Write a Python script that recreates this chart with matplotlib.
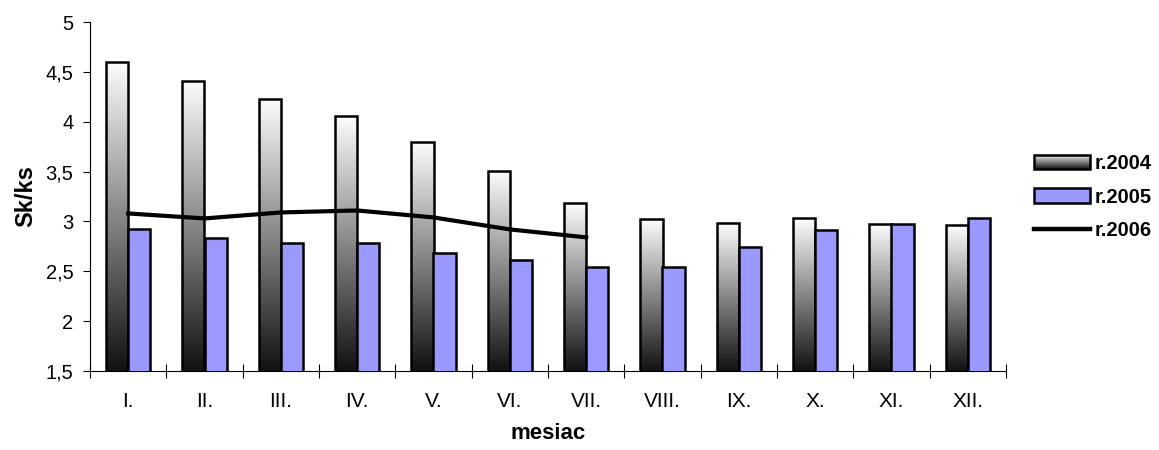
import numpy as np
import matplotlib
matplotlib.use('Agg')
import matplotlib.pyplot as plt
from matplotlib.patches import Rectangle
from matplotlib.lines import Line2D
from matplotlib.legend_handler import HandlerBase
from matplotlib.image import BboxImage
from matplotlib.transforms import Bbox, TransformedBbox
from matplotlib.ticker import FuncFormatter

plt.rcParams['font.family'] = ['Liberation Sans', 'DejaVu Sans']

months = ['I.', 'II.', 'III.', 'IV.', 'V.', 'VI.', 'VII.', 'VIII.', 'IX.', 'X.', 'XI.', 'XII.']
r2004 = [4.60, 4.41, 4.23, 4.06, 3.80, 3.51, 3.18, 3.02, 2.98, 3.03, 2.97, 2.96]
r2005 = [2.92, 2.83, 2.78, 2.78, 2.68, 2.61, 2.54, 2.54, 2.74, 2.91, 2.97, 3.03]
r2006 = [3.08, 3.03, 3.09, 3.11, 3.04, 2.92, 2.84]
labels = ['r.2004', 'r.2005', 'r.2006']
y_ticks = [1.5, 2, 2.5, 3, 3.5, 4, 4.5, 5]

blue = '#9999ff'
grad = np.linspace(1, 0, 256).reshape(-1, 1)
gray_cmap = matplotlib.colors.LinearSegmentedColormap.from_list('g', ['#111111', '#fdfdfd'])


class GradientHandler(HandlerBase):
    def create_artists(self, legend, orig_handle, xdescent, ydescent,
                       width, height, fontsize, trans):
        bb = Bbox.from_bounds(-xdescent, -ydescent, width, height)
        img = BboxImage(TransformedBbox(bb, trans), cmap=gray_cmap,
                        interpolation='bilinear')
        img.set_data(grad)
        rect = Rectangle((-xdescent, -ydescent), width, height, facecolor='none',
                         edgecolor='black', lw=1.8, transform=trans)
        return [img, rect]


fig = plt.figure(figsize=(11.59, 4.5), dpi=100)
ax = fig.add_axes([90 / 1159, 79 / 450, 916 / 1159, 349 / 450])

x = np.arange(len(months))
w = 0.29
ymin, ymax = 1.5, 5

bars = ax.bar(x - w / 2, r2004, w, color='none', edgecolor='black', lw=1.8, zorder=3)
for b, v in zip(bars, r2004):
    x0 = b.get_x()
    im = ax.imshow(grad, cmap=gray_cmap, extent=[x0, x0 + w, ymin, v],
                   aspect='auto', interpolation='bilinear', zorder=2)
    im.set_clip_path(b)
ax.bar(x + w / 2, r2005, w, color=blue, edgecolor='black', lw=1.8, zorder=3)
ax.plot(x[:len(r2006)], r2006, color='black', lw=3, zorder=4)

ax.set_xlim(-0.5, len(months) - 0.5)
ax.set_ylim(ymin, ymax)
ax.set_yticks(y_ticks)
ax.yaxis.set_major_formatter(FuncFormatter(lambda v, p: ('%g' % v).replace('.', ',')))
ax.set_xticks(x)
ax.set_xticklabels(months, fontsize=15)
ax.set_xticks(np.arange(-0.5, len(months)), minor=True)
ax.tick_params(axis='x', which='major', length=0, pad=15)
ax.tick_params(axis='x', which='minor', direction='inout', length=10, width=0.8)
ax.tick_params(axis='y', direction='out', length=5, width=0.8, labelsize=14.5, pad=7)

for s in ['top', 'right']:
    ax.spines[s].set_visible(False)
for s in ['left', 'bottom']:
    ax.spines[s].set_linewidth(0.8)

ax.set_ylabel('Sk/ks', fontsize=17, fontweight='bold', labelpad=6)
ax.set_xlabel('mesiac', fontsize=16, fontweight='bold', labelpad=9)

h2004 = Rectangle((0, 0), 1, 1)
h2005 = Rectangle((0, 0), 1, 1, facecolor=blue, edgecolor='black', lw=1.8)
h2006 = Line2D([], [], color='black', lw=3.2)
leg = fig.legend([h2004, h2005, h2006], labels, loc='center left',
                 bbox_to_anchor=(1020 / 1159, 1 - 197 / 450),
                 frameon=False, handlelength=2.8, handleheight=0.7,
                 handletextpad=0.2, labelspacing=0.7, borderpad=0.2,
                 prop={'weight': 'bold', 'size': 14.5},
                 handler_map={h2004: GradientHandler()})

fig.savefig('out.png', dpi=100)
